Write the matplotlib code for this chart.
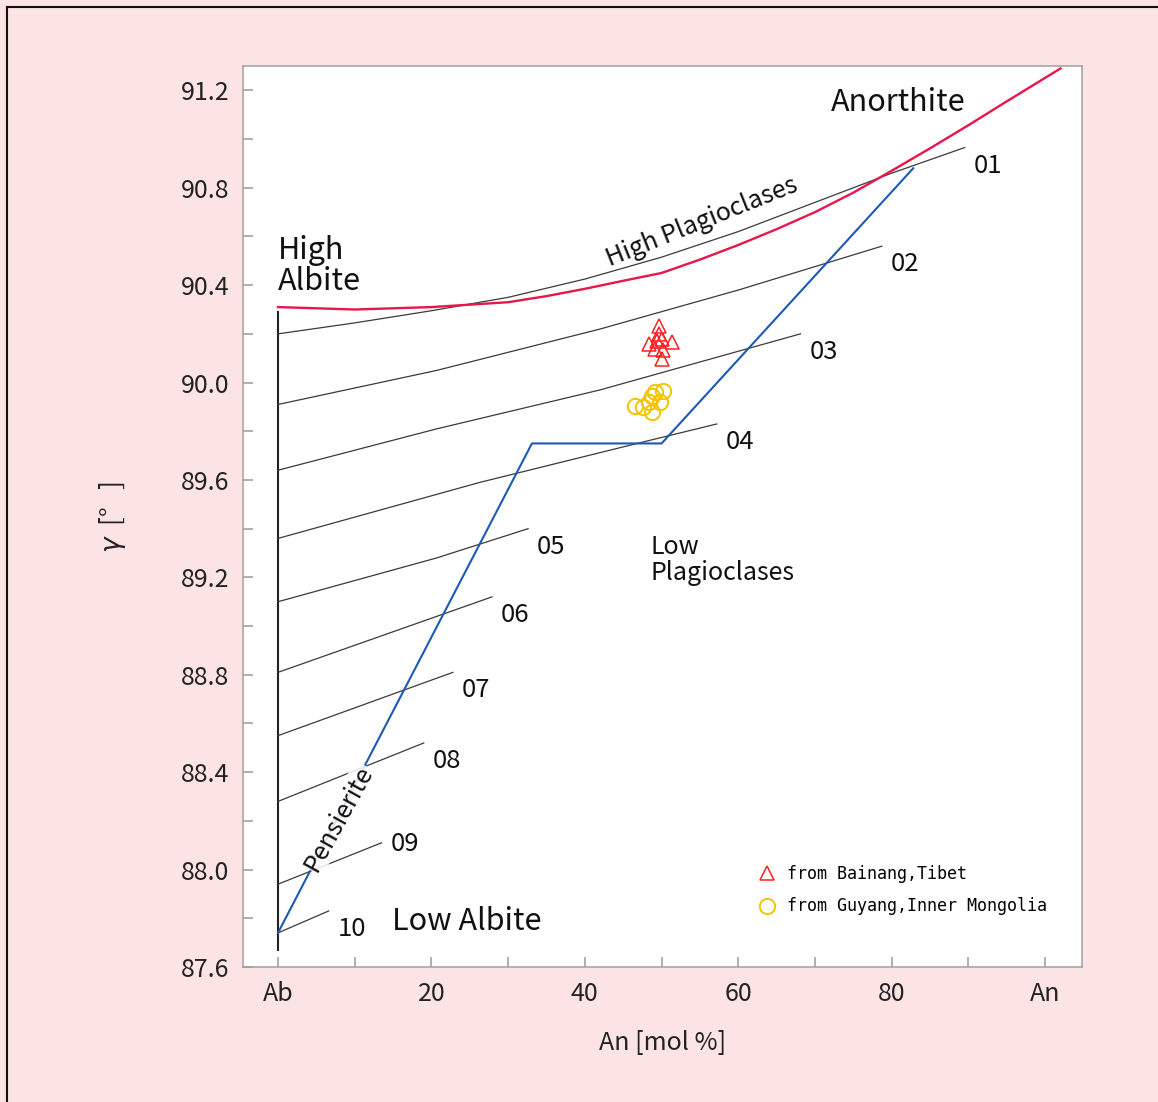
import numpy as np
import matplotlib
matplotlib.use('Agg')
import matplotlib.pyplot as plt
from matplotlib.lines import Line2D

plt.rcParams['font.family'] = ['Noto Sans CJK JP', 'DejaVu Sans']
plt.rcParams['mathtext.fontset'] = 'dejavusans'

# high albite end-member edge (An = 0)
albite_an = [0, 0]
albite_gamma = [87.67, 90.29]

# high plagioclase boundary towards anorthite
anorthite_an = [0, 10, 20, 30, 35, 40, 45, 50, 55, 60, 65, 70, 75, 80, 85, 90, 95, 102]
anorthite_gamma = [90.31, 90.30, 90.31, 90.33, 90.355, 90.385, 90.418, 90.45, 90.505,
                   90.565, 90.63, 90.70, 90.78, 90.87, 90.962, 91.057, 91.155, 91.29]

# structural state curves 01..10
state_labels = ['01', '02', '03', '04', '05', '06', '07', '08', '09', '10']
state_an = [
    [0, 10, 20, 30, 40, 50, 60, 70, 80, 89.5],
    [0, 20.7, 42, 60, 78.7],
    [0, 20.7, 42, 68.1],
    [0, 26.3, 48.1, 57.2],
    [0, 20.7, 32.6],
    [0, 27.9],
    [0, 22.8],
    [0, 19.0],
    [0, 13.5],
    [0, 6.6],
]
state_gamma = [
    [90.20, 90.245, 90.295, 90.35, 90.425, 90.515, 90.62, 90.74, 90.86, 90.965],
    [89.91, 90.05, 90.22, 90.38, 90.56],
    [89.64, 89.81, 89.97, 90.20],
    [89.36, 89.59, 89.76, 89.83],
    [89.10, 89.28, 89.40],
    [88.81, 89.12],
    [88.55, 88.81],
    [88.28, 88.52],
    [87.94, 88.11],
    [87.74, 87.83],
]

# peristerite gap outline
peristerite_an = [0, 33.1, 50.0, 82.8]
peristerite_gamma = [87.74, 89.75, 89.75, 90.88]

# samples
bainang_an = [49.7, 49.7, 48.3, 49.4, 50.0, 51.3, 49.2, 50.2, 50.0]
bainang_gamma = [90.234, 90.200, 90.159, 90.172, 90.179, 90.165, 90.138, 90.134, 90.097]
guyang_an = [46.5, 47.6, 48.3, 48.7, 49.2, 49.8, 50.2, 48.8]
guyang_gamma = [89.903, 89.899, 89.919, 89.878, 89.960, 89.919, 89.967, 89.943]

W, H = 1158, 1102
fig = plt.figure(figsize=(W / 100, H / 100), dpi=100, facecolor='#FCE4E4')
ax = fig.add_axes([243 / W, 1 - 967 / H, 839 / W, 901 / H])
ax.set_facecolor('white')

# outer frame (left and top edges)
fig.add_artist(Line2D([7 / W, 7 / W], [0, 1 - 7 / H], color='#111111', lw=1.5,
                      transform=fig.transFigure))
fig.add_artist(Line2D([7 / W, 1], [1 - 7 / H, 1 - 7 / H], color='#111111', lw=1.5,
                      transform=fig.transFigure))

ax.plot(albite_an, albite_gamma, color='#222222', lw=1.5)
for lab, xs, ys in zip(state_labels, state_an, state_gamma):
    ax.plot(xs, ys, color='#3a3a3a', lw=0.9)
    dy = -1 if lab == '09' else -13
    ax.annotate(lab, (xs[-1], ys[-1]), xytext=(6.5, dy), textcoords='offset points',
                ha='left', va='center', fontsize=18.5, color='#111111')

ax.plot(anorthite_an, anorthite_gamma, color='#E8164A', lw=1.7)
ax.plot(peristerite_an, peristerite_gamma, color='#1C59B4', lw=1.5)

ax.plot(bainang_an, bainang_gamma, ls='none', marker='^', ms=10, mfc='none',
        mec='#FF2020', mew=1.1, label='from Bainang,Tibet')
ax.plot(guyang_an, guyang_gamma, ls='none', marker='o', ms=11, mfc='none',
        mec='#F2C400', mew=1.4, label='from Guyang,Inner Mongolia')

ax.text(0, 90.35, 'High\nAlbite', ha='left', va='bottom', fontsize=22,
        linespacing=1.0, color='#111111')
ax.text(72.1, 91.117, 'Anorthite', ha='left', va='baseline', fontsize=22, color='#111111')
ax.text(14.9, 87.75, 'Low Albite', ha='left', va='baseline', fontsize=22, color='#111111')
ax.text(48.5, 89.38, 'Low\nPlagioclases', ha='left', va='top', fontsize=18,
        linespacing=1.0, color='#111111')
ax.text(55.3, 90.66, 'High Plagioclases', ha='center', va='center', rotation=21.8,
        rotation_mode='anchor', fontsize=18, color='#111111')
ax.text(7.9, 88.21, 'Pensierite', ha='center', va='center', rotation=61,
        rotation_mode='anchor', fontsize=18, color='#111111',
        bbox=dict(facecolor='white', edgecolor='none', alpha=0.85, pad=0.5))

ax.set_xlim(-4.56, 104.8)
ax.set_ylim(87.6, 91.30)
ax.set_xticks([0, 20, 40, 60, 80, 100], labels=['Ab', '20', '40', '60', '80', 'An'])
ax.set_xticks([10, 30, 50, 70, 90], minor=True)
ax.set_yticks(np.arange(87.6, 91.25, 0.4))
ax.set_yticklabels(['%.1f' % v for v in np.arange(87.6, 91.25, 0.4)])
ax.set_yticks(np.arange(87.8, 91.1, 0.4), minor=True)
ax.tick_params(which='both', direction='in', length=7.5, width=1.1, color='#9a9a9a',
               labelsize=18, pad=10, labelcolor='#222222')
for sp in ax.spines.values():
    sp.set_color('#a0a0a0')
    sp.set_linewidth(1.1)

ax.set_xlabel('An [mol %]', fontsize=18, color='#222222', va='center')
ax.xaxis.set_label_coords(0.5, -0.0844)
ax.set_ylabel(r'$\gamma$  [°   ]', fontsize=19, color='#222222', va='center')
ax.yaxis.set_label_coords(-0.156, 0.5)

ax.legend(loc='upper left', bbox_to_anchor=(0.6147, 0.113), frameon=False,
          prop={'family': 'DejaVu Sans Mono', 'size': 12}, handlelength=1.0,
          handletextpad=0.7, labelspacing=0.85, borderpad=0, borderaxespad=0)

fig.savefig('out.png', dpi=100, facecolor=fig.get_facecolor())
